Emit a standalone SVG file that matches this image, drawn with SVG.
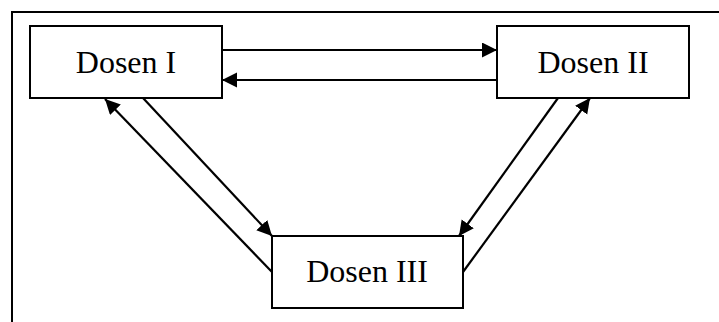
<svg xmlns="http://www.w3.org/2000/svg" width="719" height="322" viewBox="0 0 719 322">
<style>
.box{fill:#fff;stroke:#000;stroke-width:2}
.lbl{font-family:"Liberation Serif",serif;font-size:32px;fill:#000;text-anchor:middle}
.con{stroke:#000;stroke-width:2.2;fill:none;marker-end:url(#ah)}
</style>
<defs>
<marker id="ah" markerWidth="16" markerHeight="16" refX="15" refY="7.5" orient="auto" markerUnits="userSpaceOnUse">
<path d="M0,0 L15,7.5 L0,15 Z" fill="#000"/>
</marker>
</defs>
<rect width="719" height="322" fill="#fff"/>
<path d="M12,330 L12,12 L725,12" stroke="#000" stroke-width="2" fill="none"/>
<g id="connectors">
<line class="con" x1="222" y1="50" x2="497" y2="50"/>
<line class="con" x1="497" y1="80" x2="222" y2="80"/>
<line class="con" x1="143" y1="98" x2="272" y2="236"/>
<line class="con" x1="272" y1="272" x2="105" y2="99"/>
<line class="con" x1="558" y1="98" x2="459" y2="236"/>
<line class="con" x1="463" y1="272" x2="590" y2="98"/>
</g>
<g id="dosen1">
<rect class="box" x="30" y="26" width="192" height="72"/>
<text class="lbl" x="126" y="73">Dosen I</text>
</g>
<g id="dosen2">
<rect class="box" x="497" y="26" width="192" height="72"/>
<text class="lbl" x="593" y="73">Dosen II</text>
</g>
<g id="dosen3">
<rect class="box" x="272" y="236" width="191" height="72"/>
<text class="lbl" x="367" y="282">Dosen III</text>
</g>
</svg>
